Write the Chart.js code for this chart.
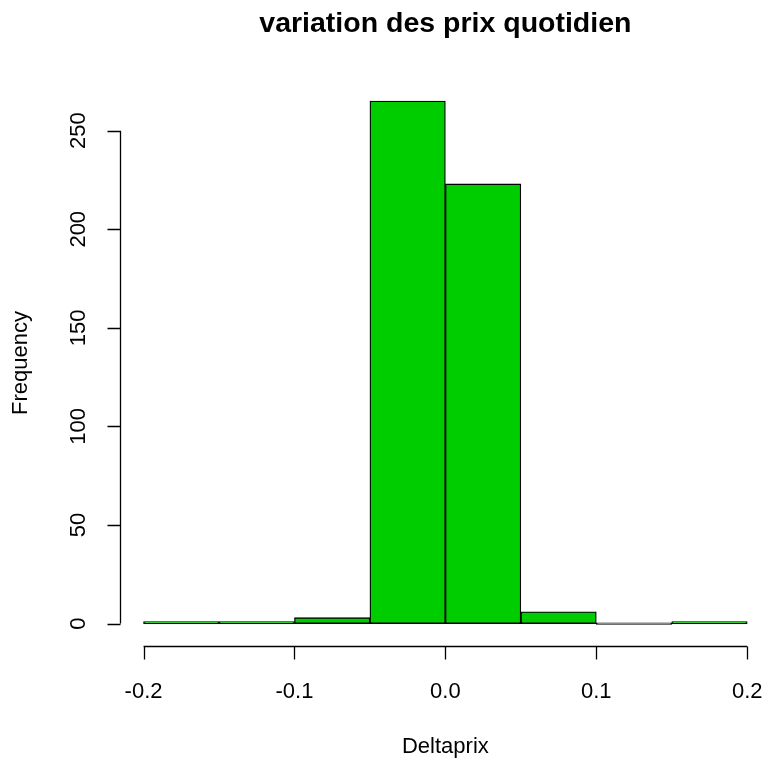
<!DOCTYPE html>
<html>
<head>
<meta charset="utf-8">
<script src="https://cdn.jsdelivr.net/npm/chart.js@4/dist/chart.umd.min.js"></script>
<style>
  html, body { margin: 0; padding: 0; background: #fff; }
  #wrap { width: 766px; height: 760px; }
</style>
</head>
<body>
<div id="wrap"><canvas id="histo" width="766" height="760"></canvas></div>
<script>
// bins of Deltaprix (width 0.05) and their counts
const binStarts = [-0.2, -0.15, -0.1, -0.05, 0.0, 0.05, 0.1, 0.15];
const binWidth = 0.05;
const counts = [1, 1, 3, 265, 223, 6, 0, 1];

const xTicks = [-0.2, -0.1, 0.0, 0.1, 0.2];
const xTickLabels = ["-0.2", "-0.1", "0.0", "0.1", "0.2"];
const yTicks = [0, 50, 100, 150, 200, 250];

const titleText = "variation des prix quotidien";
const xTitle = "Deltaprix";
const yTitle = "Frequency";

const FONT = "'Liberation Sans', Arial, sans-serif";

// R-style axes, labels and title, drawn from the chart's own scales
const baseAxes = {
    id: "baseAxes",
    afterDraw(chart) {
        const ctx = chart.ctx;
        const xs = chart.scales.x;
        const ys = chart.scales.y;
        const area = chart.chartArea;
        const tick = 13;

        ctx.save();
        ctx.strokeStyle = "#000";
        ctx.fillStyle = "#000";
        ctx.lineWidth = 1.3;

        // y axis
        const yAxisX = Math.round(area.left) + 0.5;
        ctx.beginPath();
        ctx.moveTo(yAxisX, ys.getPixelForValue(yTicks[0]));
        ctx.lineTo(yAxisX, ys.getPixelForValue(yTicks[yTicks.length - 1]));
        yTicks.forEach(v => {
            const py = Math.round(ys.getPixelForValue(v)) + 0.5;
            ctx.moveTo(yAxisX, py);
            ctx.lineTo(yAxisX - tick, py);
        });
        ctx.stroke();

        ctx.font = "22px " + FONT;
        ctx.textAlign = "center";
        ctx.textBaseline = "alphabetic";
        yTicks.forEach(v => {
            ctx.save();
            ctx.translate(yAxisX - 36, ys.getPixelForValue(v));
            ctx.rotate(-Math.PI / 2);
            ctx.fillText(String(v), 0, 0);
            ctx.restore();
        });

        // x axis
        const xAxisY = Math.round(area.bottom) + 0.5;
        ctx.beginPath();
        ctx.moveTo(xs.getPixelForValue(xTicks[0]), xAxisY);
        ctx.lineTo(xs.getPixelForValue(xTicks[xTicks.length - 1]), xAxisY);
        xTicks.forEach(v => {
            const px = Math.round(xs.getPixelForValue(v)) + 0.5;
            ctx.moveTo(px, xAxisY);
            ctx.lineTo(px, xAxisY + tick);
        });
        ctx.stroke();

        xTicks.forEach((v, i) => {
            ctx.fillText(xTickLabels[i], xs.getPixelForValue(v), xAxisY + 51);
        });

        // axis titles
        const midX = xs.getPixelForValue(0);
        ctx.fillText(xTitle, midX, 753);
        ctx.save();
        ctx.translate(27, (area.top + area.bottom) / 2);
        ctx.rotate(-Math.PI / 2);
        ctx.fillText(yTitle, 0, 0);
        ctx.restore();

        // main title
        ctx.font = "bold 28.5px " + FONT;
        ctx.fillText(titleText, midX, 32);

        ctx.restore();
    }
};

const points = binStarts.map((s, i) => ({ x: s + binWidth / 2, y: counts[i] }));

new Chart(document.getElementById("histo"), {
    type: "bar",
    data: {
        datasets: [{
            data: points,
            backgroundColor: "#00CD00",
            borderColor: "#000",
            borderWidth: 1.3,
            borderSkipped: false,
            minBarLength: 1.5,
            barPercentage: 1,
            categoryPercentage: 1
        }]
    },
    options: {
        responsive: false,
        animation: false,
        layout: { padding: { left: 120, right: 4, top: 80, bottom: 114 } },
        plugins: {
            legend: { display: false },
            title: { display: false },
            tooltip: { enabled: false }
        },
        scales: {
            x: { type: "linear", display: false, offset: false, min: -0.2156, max: 0.2098 },
            y: { display: false, min: -11.37, max: 275.7 }
        }
    },
    plugins: [baseAxes]
});
</script>
</body>
</html>
